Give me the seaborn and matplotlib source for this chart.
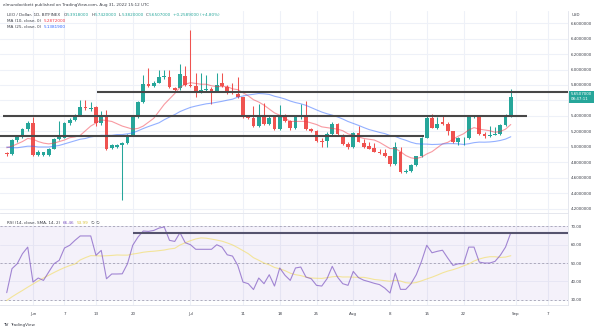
import numpy as np
import pandas as pd
import matplotlib
matplotlib.use("Agg")
import matplotlib.pyplot as plt
import seaborn as sns
from matplotlib.transforms import blended_transform_factory

# ---------------- data ----------------
dates = pd.date_range("2022-05-27", "2022-08-31", freq="D")

open_ = [4.92, 4.915, 5.09, 5.13, 5.23, 5.305, 4.90, 4.90, 4.90, 4.98,
         5.10, 5.12, 5.305, 5.35, 5.41, 5.51, 5.495, 5.51, 5.305, 5.39,
         4.99, 5.00, 5.03, 5.05, 5.16, 5.39, 5.585, 5.81, 5.79, 5.83,
         5.90, 5.90, 5.765, 5.76, 5.92, 5.80, 5.79, 5.72, 5.74, 5.75,
         5.72, 5.82, 5.78, 5.71, 5.69, 5.64, 5.395, 5.38, 5.27, 5.39,
         5.30, 5.39, 5.23, 5.41, 5.33, 5.25, 5.385, 5.39, 5.23, 5.21,
         5.08, 5.08, 5.17, 5.30, 5.16, 5.04, 5.00, 5.18, 5.05, 5.01,
         4.99, 4.94, 4.92, 4.88, 4.78, 4.93, 4.68, 4.69, 4.77, 4.88,
         5.12, 5.38, 5.24, 5.32, 5.30, 5.20, 5.07, 5.11, 5.11, 5.40,
         5.40, 5.17, 5.14, 5.16, 5.17, 5.28, 5.3918]
high = [4.94, 5.10, 5.15, 5.25, 5.33, 5.39, 4.96, 4.94, 4.99, 5.11,
        5.33, 5.32, 5.37, 5.43, 5.60, 5.61, 5.58, 5.53, 5.47, 5.48,
        5.04, 5.04, 5.06, 5.17, 5.40, 5.59, 5.93, 6.015, 5.85, 5.99,
        5.99, 5.99, 5.78, 6.07, 6.04, 6.51, 5.96, 5.95, 5.93, 5.78,
        5.95, 5.95, 5.80, 5.82, 5.90, 5.65, 5.40, 5.53, 5.56, 5.57,
        5.40, 5.41, 5.54, 5.43, 5.35, 5.41, 5.55, 5.59, 5.25, 5.22,
        5.12, 5.19, 5.32, 5.31, 5.17, 5.06, 5.19, 5.27, 5.10, 5.07,
        5.05, 4.98, 4.97, 4.89, 5.06, 5.00, 4.71, 4.78, 4.89, 5.13,
        5.40, 5.43, 5.39, 5.40, 5.32, 5.21, 5.13, 5.13, 5.41, 5.41,
        5.41, 5.19, 5.27, 5.26, 5.30, 5.43, 5.742]
low = [4.89, 4.90, 5.07, 5.11, 5.21, 4.88, 4.88, 4.88, 4.88, 4.97,
       5.09, 5.11, 5.29, 5.34, 5.40, 5.48, 5.47, 5.27, 5.29, 4.96,
       4.98, 4.99, 4.32, 5.04, 5.15, 5.38, 5.57, 5.78, 5.77, 5.82,
       5.88, 5.76, 5.72, 5.73, 5.79, 5.77, 5.65, 5.70, 5.72, 5.56,
       5.71, 5.78, 5.68, 5.69, 5.63, 5.38, 5.36, 5.26, 5.26, 5.28,
       5.29, 5.22, 5.22, 5.32, 5.22, 5.23, 5.36, 5.22, 5.19, 5.07,
       5.00, 5.00, 5.15, 5.16, 5.03, 4.98, 4.99, 5.06, 4.99, 4.97,
       4.93, 4.91, 4.87, 4.76, 4.77, 4.66, 4.66, 4.68, 4.76, 4.87,
       5.11, 5.24, 5.23, 5.28, 5.15, 5.05, 5.03, 5.02, 5.10, 5.38,
       5.16, 5.12, 5.13, 5.15, 5.16, 5.27, 5.382]
close = [4.91, 5.09, 5.13, 5.23, 5.305, 4.90, 4.93, 4.93, 4.98, 5.10,
         5.13, 5.305, 5.35, 5.41, 5.51, 5.50, 5.505, 5.305, 5.39, 4.98,
         5.03, 5.03, 5.05, 5.16, 5.39, 5.585, 5.81, 5.79, 5.83, 5.90,
         5.91, 5.77, 5.735, 5.94, 5.80, 5.79, 5.72, 5.74, 5.75, 5.72,
         5.80, 5.79, 5.70, 5.70, 5.64, 5.39, 5.38, 5.27, 5.39, 5.30,
         5.38, 5.23, 5.41, 5.33, 5.25, 5.39, 5.395, 5.23, 5.21, 5.08,
         5.07, 5.17, 5.30, 5.17, 5.04, 5.00, 5.18, 5.07, 5.00, 4.98,
         4.94, 4.92, 4.88, 4.78, 5.00, 4.68, 4.69, 4.77, 4.88, 5.12,
         5.38, 5.25, 5.30, 5.30, 5.20, 5.07, 5.11, 5.11, 5.40, 5.40,
         5.17, 5.14, 5.16, 5.17, 5.28, 5.40, 5.6507]
ma10 = [4.99, 5.01, 5.04, 5.07, 5.11, 5.10, 5.07, 5.05, 5.04, 5.05,
        5.07, 5.09, 5.12, 5.13, 5.15, 5.21, 5.27, 5.31, 5.35, 5.34,
        5.33, 5.30, 5.27, 5.25, 5.23, 5.24, 5.27, 5.32, 5.37, 5.46,
        5.55, 5.62, 5.69, 5.77, 5.81, 5.83, 5.82, 5.81, 5.81, 5.79,
        5.78, 5.78, 5.78, 5.75, 5.74, 5.70, 5.66, 5.61, 5.58, 5.54,
        5.49, 5.44, 5.41, 5.37, 5.33, 5.33, 5.33, 5.33, 5.31, 5.29,
        5.26, 5.25, 5.24, 5.23, 5.21, 5.17, 5.15, 5.13, 5.11, 5.10,
        5.09, 5.06, 5.02, 4.98, 4.98, 4.94, 4.89, 4.86, 4.85, 4.87,
        4.91, 4.94, 4.99, 5.04, 5.06, 5.10, 5.14, 5.17, 5.22, 5.25,
        5.23, 5.22, 5.21, 5.19, 5.20, 5.23, 5.29]
ma25 = [5.00, 4.99, 4.99, 5.00, 5.01, 5.01, 5.00, 5.00, 5.00, 5.01,
        5.02, 5.04, 5.06, 5.08, 5.10, 5.11, 5.13, 5.14, 5.15, 5.15,
        5.15, 5.16, 5.16, 5.17, 5.182, 5.209, 5.238, 5.264, 5.288, 5.312,
        5.352, 5.386, 5.418, 5.457, 5.485, 5.511, 5.528, 5.543, 5.557, 5.565,
        5.577, 5.589, 5.604, 5.617, 5.643, 5.658, 5.672, 5.680, 5.690, 5.686,
        5.678, 5.655, 5.639, 5.619, 5.593, 5.573, 5.558, 5.537, 5.508, 5.479,
        5.451, 5.429, 5.411, 5.388, 5.361, 5.329, 5.304, 5.279, 5.251, 5.225,
        5.207, 5.188, 5.173, 5.148, 5.136, 5.108, 5.087, 5.061, 5.043, 5.038,
        5.037, 5.032, 5.034, 5.038, 5.043, 5.043, 5.040, 5.033, 5.042, 5.056,
        5.063, 5.062, 5.065, 5.072, 5.084, 5.102, 5.132]
rsi = [33.8, 46.9, 49.6, 55.1, 58.7, 39.6, 41.8, 40.5, 45.1, 49.6,
       51.5, 58.2, 59.7, 62.4, 64.8, 64.8, 64.8, 54.2, 56.9, 41.4,
       44.0, 44.0, 44.1, 49.6, 59.7, 64.2, 67.5, 67.3, 67.8, 69.1,
       69.7, 62.4, 61.8, 66.6, 61.1, 60.0, 57.5, 57.5, 57.5, 57.5,
       60.0, 58.7, 54.5, 53.8, 48.7, 39.6, 38.7, 35.5, 41.8, 38.7,
       43.6, 37.4, 47.3, 43.3, 40.5, 47.3, 47.8, 42.3, 41.4, 37.8,
       37.4, 41.4, 48.2, 42.3, 38.7, 37.8, 45.4, 42.0, 40.6, 39.8,
       38.9, 38.2, 36.3, 33.6, 44.5, 35.6, 35.6, 38.7, 43.6, 50.9,
       59.7, 55.6, 56.4, 57.0, 52.7, 48.7, 49.6, 49.6, 58.7, 58.7,
       50.5, 50.0, 50.0, 50.9, 54.2, 58.7, 66.5]
rsi_sma = [29.5, 31.5, 33.3, 35.0, 36.8, 38.5, 40.2, 41.8, 43.3, 44.8,
           46.2, 47.5, 48.6, 49.46, 51.68, 52.96, 54.04, 53.98, 53.85, 53.98,
           54.14, 54.39, 54.31, 54.31, 54.90, 55.33, 55.89, 56.24, 56.45, 56.76,
           57.11, 57.69, 58.04, 59.84, 61.06, 62.21, 63.16, 63.73, 63.57, 63.09,
           62.56, 61.94, 60.99, 59.90, 58.40, 56.77, 55.12, 52.90, 51.52, 50.00,
           49.01, 47.57, 46.84, 45.83, 44.44, 43.62, 43.14, 42.32, 41.80, 41.67,
           41.58, 42.00, 42.46, 42.71, 42.36, 42.39, 42.26, 42.16, 42.17, 41.64,
           41.00, 40.71, 40.34, 40.04, 40.55, 40.14, 39.24, 38.98, 39.33, 40.26,
           41.29, 42.26, 43.39, 44.61, 45.60, 46.35, 47.30, 48.44, 49.46, 51.11,
           52.17, 52.98, 53.44, 53.44, 53.04, 53.26, 53.99]

tick_dates = ["2022-06-01", "2022-06-07", "2022-06-13", "2022-06-20", "2022-07-01",
              "2022-07-11", "2022-07-18", "2022-07-25", "2022-08-01", "2022-08-08",
              "2022-08-15", "2022-08-22", "2022-09-01", "2022-09-07"]
tick_labels = ["Jun", "7", "13", "20", "Jul", "11", "18", "25", "Aug", "8", "15", "22", "Sep", "7"]
price_ticks = [4.2, 4.4, 4.6, 4.8, 5.0, 5.2, 5.4, 5.6, 5.8, 6.0, 6.2, 6.4, 6.6]
rsi_ticks = [30, 40, 50, 60, 70]
level_prices = [5.715, 5.40, 5.14]
rsi_level = 66.5

# ---------------- layout / style ----------------
sns.set_theme(style="white")
plt.rcParams["font.family"] = ["DejaVu Sans"]

W, H = 600, 331
fig = plt.figure(figsize=(W / 100, H / 100), dpi=100)
fig.patch.set_facecolor("white")


def fx(p):
    return p / W


def fy(p):
    return 1 - p / H


ax = fig.add_axes([0, fy(213), fx(568), fy(11) - fy(213)])
axr = fig.add_axes([0, fy(305), fx(568), fy(214) - fy(305)], sharex=ax)

UP, DOWN = "#26a69a", "#ef5350"
TXT = "#3b3e47"
GRID = "#eef1f8"

df = pd.DataFrame(dict(date=dates, open=open_, high=high, low=low, close=close,
                       ma10=ma10, ma25=ma25, rsi=rsi, rsi_sma=rsi_sma))
df["i"] = np.arange(len(df))
colors = np.where(df["close"] >= df["open"], UP, DOWN)

tick_pos = [(pd.Timestamp(d) - dates[0]).days for d in tick_dates]
xlim = (-1.28, 106.9)

for a in (ax, axr):
    for t in tick_pos:
        a.axvline(t, color=GRID, lw=0.8, zorder=0)
for p in price_ticks:
    ax.axhline(p, color=GRID, lw=0.8, zorder=0)
for v in rsi_ticks:
    axr.axhline(v, color=GRID, lw=0.6, zorder=0)

# candles
ax.vlines(df["i"], df["low"], df["high"], colors=colors, lw=0.75, zorder=2)
body_h = np.maximum((df["close"] - df["open"]).abs(), 0.007)
ax.bar(df["i"], body_h, bottom=np.minimum(df["open"], df["close"]), width=0.68,
       color=colors, linewidth=0, zorder=3)

# moving averages
sns.lineplot(data=df, x="i", y="ma10", ax=ax, color="#f23645", lw=0.8, alpha=0.5,
             zorder=4, legend=False, estimator=None)
sns.lineplot(data=df, x="i", y="ma25", ax=ax, color="#2962ff", lw=0.8, alpha=0.5,
             zorder=4, legend=False, estimator=None)

# horizontal levels
level_span = [(17.2, 110), (-0.7, 99.1), (-1.5, 79.5)]
for p, (s, e) in zip(level_prices, level_span):
    ax.hlines(p, s, e, color="#474747", lw=1.5, zorder=5)

ax.set_xlim(*xlim)
ax.set_ylim(4.148, 6.755)
ax.set_xlabel("")
ax.set_ylabel("")
ax.yaxis.tick_right()
ax.set_yticks(price_ticks)
# the 5.6 label sits under the last-price tag in the reference, so it is hidden there
ax.set_yticklabels(["" if abs(p - close[-1]) < 0.08 else f"{p:.7f}" for p in price_ticks])
ax.tick_params(axis="y", length=0, pad=2.2, labelsize=2.9, labelcolor=TXT)
ax.tick_params(axis="x", length=0, labelbottom=False)

# RSI pane
axr.axhspan(30, 70, color="#7e57c2", alpha=0.08, lw=0, zorder=0)
for v in (70, 50, 30):
    axr.axhline(v, color="#a3a0b3", lw=0.6, ls=(0, (2.5, 2.5)), zorder=1)
sns.lineplot(data=df, x="i", y="rsi_sma", ax=axr, color="#f3dc5a", lw=0.8, alpha=0.6,
             zorder=2, legend=False, estimator=None)
sns.lineplot(data=df, x="i", y="rsi", ax=axr, color="#7e57c2", lw=0.8, alpha=0.7,
             zorder=3, legend=False, estimator=None)
axr.hlines(rsi_level, 24.1, 110, color="#55536e", lw=1.5, zorder=4)
axr.set_xlim(*xlim)
axr.set_ylim(27.05, 76.8)
axr.set_xlabel("")
axr.set_ylabel("")
axr.yaxis.tick_right()
axr.set_yticks(rsi_ticks)
axr.set_yticklabels([f"{v:.2f}" for v in rsi_ticks])
axr.set_xticks(tick_pos)
axr.set_xticklabels(tick_labels)
axr.tick_params(axis="y", length=0, pad=2.2, labelsize=2.9, labelcolor=TXT)
axr.tick_params(axis="x", length=0, pad=5.0, labelsize=2.9, labelcolor=TXT)

for a in (ax, axr):
    for s in a.spines.values():
        s.set_visible(False)
    a.spines["right"].set_visible(True)
    a.spines["right"].set_color("#e0e3eb")
    a.spines["right"].set_linewidth(0.6)
    a.spines["bottom"].set_visible(True)
    a.spines["bottom"].set_color("#e0e3eb")
    a.spines["bottom"].set_linewidth(0.6)

# price tag for the last close
blend = blended_transform_factory(ax.transAxes, ax.transData)
ax.annotate(f"{close[-1]:.7f}\n08:47:11", xy=(1.0, close[-1]), xycoords=blend,
            xytext=(2.2, 3.0), textcoords="offset points", ha="left", va="top",
            fontsize=2.9, color="white", linespacing=1.35, annotation_clip=False,
            zorder=10,
            bbox=dict(boxstyle="square,pad=0.45", fc=UP, ec="none"))

# texts
renderer = fig.canvas.get_renderer()


def rich(x_px, y_px, parts, size=3.0):
    x = x_px
    for s, c, gap in parts:
        t = fig.text(fx(x), fy(y_px), s, fontsize=size, color=c, va="center", ha="left")
        x += t.get_window_extent(renderer).width + gap


fig.text(fx(3), fy(5), "elmundoctbett published on TradingView.com, Aug 31, 2022 15:12 UTC",
         fontsize=3.0, color=TXT, va="center", ha="left")
rich(7, 15.5, [("LEO / Dollar, 1D, BITFINEX", TXT, 3),
               ("O", TXT, 0.3), ("5.3918000", UP, 2.2),
               ("H", TXT, 0.3), ("5.7420000", UP, 2.2),
               ("L", TXT, 0.3), ("5.3820000", UP, 2.2),
               ("C", TXT, 0.3), ("5.6507000", UP, 2.2),
               ("+0.2589000 (+4.80%)", UP, 0)])
rich(7, 21.5, [("MA (10, close, 0)", TXT, 2.5), ("5.2872000", "#f23645", 0)])
rich(7, 27.5, [("MA (25, close, 0)", TXT, 2.5), ("5.1381900", "#2962ff", 0)])
rich(7, 222.5, [("RSI (14, close, SMA, 14, 2)", TXT, 2.5), ("66.46", "#7e57c2", 2.2),
                ("53.99", "#d8c23a", 2.2), ("\u2205", TXT, 1.5), ("\u2205", TXT, 0)])
fig.text(fx(572), fy(15), "USD", fontsize=2.9, color=TXT, va="center", ha="left")
rich(3, 325, [("TV", "#131722", 1.5), ("TradingView", TXT, 0)], size=3.0)

fig.savefig("out.png", dpi=100, facecolor="white")
